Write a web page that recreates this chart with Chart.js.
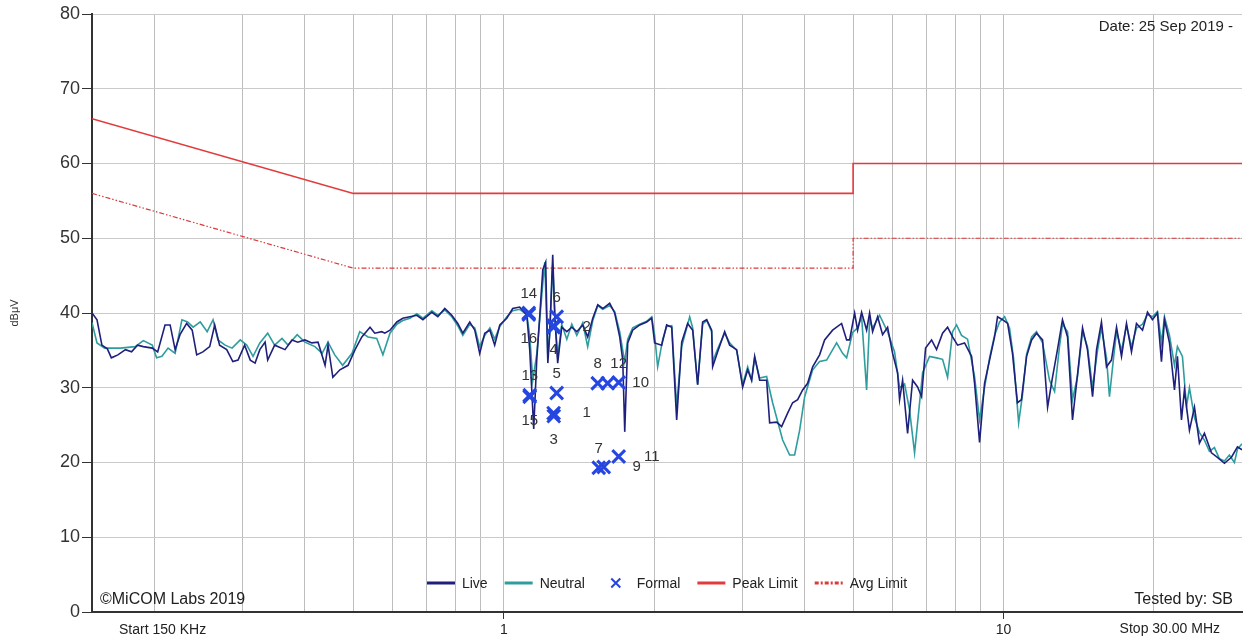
<!DOCTYPE html>
<html>
<head>
<meta charset="utf-8">
<script src="https://cdn.jsdelivr.net/npm/chart.js@4.4.1/dist/chart.umd.min.js"></script>
<style>
  html, body { margin: 0; padding: 0; background: #fff; overflow: hidden; }
  #wrap { width: 1243px; height: 638px; position: relative; }
  #emc { display: block; }
</style>
</head>
<body>
<div id="wrap"><canvas id="emc"></canvas></div>
<script>
// ─── Datos (frecuencia MHz, nivel dBµV) ───────────────────────────────────────

const live = [
  [0.150,40.0],[0.1535,39.1],[0.157,35.7],[0.161,35.2],[0.164,34.0],[0.169,34.4],[0.175,35.1],[0.180,34.8],
  [0.185,35.7],[0.190,35.5],[0.198,35.3],[0.203,34.8],[0.210,38.4],[0.215,38.4],[0.220,35.1],[0.225,37.1],
  [0.232,38.6],[0.238,37.7],[0.243,34.4],[0.250,34.8],[0.258,35.5],[0.264,38.4],[0.270,35.7],[0.279,35.1],
  [0.287,33.5],[0.294,33.7],[0.303,35.7],[0.311,33.7],[0.318,33.3],[0.325,35.1],[0.333,36.1],[0.337,33.7],
  [0.348,35.7],[0.365,35.1],[0.377,36.4],[0.387,36.1],[0.400,36.4],[0.413,36.0],[0.425,36.1],[0.439,33.0],
  [0.445,35.7],[0.455,31.4],[0.470,32.4],[0.488,33.0],[0.504,35.1],[0.520,36.8],[0.540,38.1],[0.552,37.3],
  [0.570,37.5],[0.578,37.3],[0.592,37.7],[0.611,38.8],[0.628,39.3],[0.649,39.5],[0.670,39.7],[0.689,39.1],
  [0.718,40.1],[0.738,39.5],[0.762,40.6],[0.787,39.7],[0.809,38.6],[0.828,37.3],[0.855,38.8],[0.875,37.7],
  [0.895,34.6],[0.916,37.3],[0.938,37.7],[0.959,35.7],[0.982,38.4],[1.014,39.3],[1.042,40.6],[1.076,40.8],
  [1.112,39.7],[1.127,35.1],[1.148,24.5],[1.164,33.7],[1.180,39.5],[1.197,45.8],[1.213,46.8],[1.225,33.3],
  [1.236,37.3],[1.253,47.8],[1.265,39.5],[1.282,33.3],[1.306,38.1],[1.337,37.5],[1.368,38.1],[1.400,37.5],
  [1.439,38.4],[1.472,36.8],[1.507,39.3],[1.542,41.1],[1.578,40.6],[1.629,41.3],[1.667,40.0],[1.706,36.8],
  [1.730,33.7],[1.746,24.1],[1.770,36.0],[1.811,37.7],[1.871,38.4],[1.932,38.8],[1.977,39.3],[2.004,36.0],
  [2.070,35.7],[2.118,38.4],[2.168,38.1],[2.218,25.7],[2.270,36.1],[2.333,38.6],[2.388,37.7],[2.443,30.4],
  [2.500,38.8],[2.547,39.1],[2.606,37.7],[2.618,32.8],[2.679,34.8],[2.767,37.5],[2.831,35.7],[2.924,35.1],
  [3.006,30.1],[3.076,32.4],[3.133,31.0],[3.177,34.2],[3.251,31.0],[3.357,31.0],[3.404,25.3],[3.516,25.4],
  [3.597,24.8],[3.698,26.6],[3.784,28.0],[3.873,28.4],[3.963,29.7],[4.055,30.6],[4.150,32.8],[4.285,34.4],
  [4.385,36.4],[4.550,37.7],[4.742,38.6],[4.853,36.4],[4.920,36.4],[5.035,40.0],[5.105,37.7],[5.200,40.1],
  [5.321,37.7],[5.395,40.0],[5.470,37.5],[5.598,39.5],[5.728,37.1],[5.861,38.1],[5.998,34.6],[6.138,32.0],
  [6.194,28.4],[6.281,31.0],[6.427,23.9],[6.577,31.0],[6.730,30.1],[6.855,28.8],[6.982,35.3],[7.178,36.4],
  [7.345,35.1],[7.551,37.3],[7.727,38.1],[7.907,36.8],[8.091,35.7],[8.356,36.0],[8.630,34.2],[8.750,30.6],
  [8.954,22.7],[9.162,30.6],[9.376,33.7],[9.594,36.8],[9.727,39.5],[9.954,39.1],[10.19,38.6],[10.42,34.6],
  [10.66,28.0],[10.86,28.4],[11.12,34.2],[11.38,36.4],[11.64,37.3],[11.97,36.4],[12.25,27.4],[12.53,31.4],
  [12.82,35.1],[13.12,39.1],[13.43,36.8],[13.74,25.7],[14.00,30.6],[14.39,38.0],[14.72,35.1],[15.07,28.8],
  [15.35,35.1],[15.70,38.8],[16.07,32.8],[16.44,33.7],[16.83,38.1],[17.22,34.2],[17.62,38.6],[18.03,34.8],
  [18.45,38.6],[18.97,37.7],[19.41,40.1],[19.86,39.1],[20.32,40.0],[20.70,33.5],[20.99,39.1],[21.48,36.0],
  [21.98,29.7],[22.28,34.2],[22.70,25.7],[23.01,29.7],[23.55,24.3],[24.10,27.4],[24.66,22.6],[25.23,23.9],
  [26.06,21.3],[26.79,20.7],[27.67,19.9],[28.58,20.7],[29.38,22.1],[30.0,21.7]
];

const neutral = [
  [0.150,38.7],[0.1535,36.0],[0.159,35.3],[0.171,35.3],[0.183,35.5],[0.190,36.3],[0.198,35.7],[0.202,34.0],
  [0.207,34.2],[0.213,35.3],[0.220,34.6],[0.227,39.1],[0.233,38.8],[0.239,38.1],[0.247,38.8],[0.255,37.5],
  [0.262,39.1],[0.268,36.4],[0.277,35.7],[0.286,35.3],[0.297,36.4],[0.306,35.7],[0.315,34.2],[0.325,36.0],
  [0.337,37.3],[0.348,35.7],[0.360,36.6],[0.370,35.7],[0.386,37.1],[0.400,36.1],[0.419,35.5],[0.433,34.6],
  [0.445,36.1],[0.459,34.4],[0.476,33.0],[0.497,34.6],[0.515,37.5],[0.535,36.8],[0.557,36.6],[0.573,34.4],
  [0.592,37.3],[0.611,38.5],[0.628,39.0],[0.649,39.3],[0.670,39.9],[0.689,39.3],[0.718,40.3],[0.738,39.7],
  [0.762,40.4],[0.787,39.5],[0.809,38.3],[0.828,37.0],[0.855,38.5],[0.875,38.0],[0.895,35.5],[0.916,37.0],
  [0.938,38.0],[0.959,36.5],[0.982,38.2],[1.014,39.5],[1.042,40.3],[1.076,40.5],[1.112,39.8],[1.127,37.0],
  [1.143,31.0],[1.164,34.5],[1.180,39.0],[1.197,44.0],[1.208,46.8],[1.225,34.0],[1.236,37.5],[1.253,46.5],
  [1.265,40.0],[1.282,34.0],[1.306,38.5],[1.337,36.5],[1.368,38.5],[1.400,37.0],[1.439,38.7],[1.472,35.5],
  [1.507,39.0],[1.542,41.0],[1.578,40.5],[1.629,41.0],[1.667,40.2],[1.706,37.5],[1.730,35.0],[1.746,33.5],
  [1.770,36.5],[1.811,38.0],[1.871,38.5],[1.932,38.9],[1.977,39.5],[2.004,37.0],[2.032,32.8],[2.080,36.5],
  [2.118,38.2],[2.168,38.3],[2.218,27.5],[2.270,35.5],[2.355,39.5],[2.388,38.0],[2.443,30.4],[2.500,38.5],
  [2.547,39.0],[2.606,37.5],[2.618,33.5],[2.679,35.2],[2.767,37.3],[2.831,36.0],[2.924,35.0],[3.006,30.4],
  [3.076,32.8],[3.133,31.0],[3.177,34.0],[3.251,31.3],[3.357,31.5],[3.451,28.0],[3.614,23.0],[3.733,21.0],
  [3.819,21.0],[3.908,24.3],[4.000,28.8],[4.150,32.4],[4.285,33.5],[4.426,33.7],[4.634,36.0],[4.764,34.6],
  [4.853,34.0],[4.989,37.4],[5.105,38.0],[5.200,39.5],[5.321,29.7],[5.395,39.0],[5.470,38.0],[5.649,39.7],
  [5.861,37.5],[6.053,34.8],[6.194,30.0],[6.339,30.5],[6.486,27.0],[6.637,21.3],[6.792,28.0],[6.887,32.0],
  [7.112,34.2],[7.345,34.0],[7.551,33.8],[7.727,31.4],[7.907,37.5],[8.054,38.4],[8.241,37.0],[8.472,36.5],
  [8.750,31.5],[8.954,25.7],[9.162,30.0],[9.376,34.0],[9.594,37.0],[9.817,38.8],[10.05,39.5],[10.28,38.0],
  [10.47,34.0],[10.72,25.3],[10.91,29.0],[11.12,34.5],[11.38,36.8],[11.64,37.5],[11.97,36.0],[12.36,31.0],
  [12.65,29.5],[12.94,35.5],[13.12,38.5],[13.43,37.5],[13.74,28.4],[14.06,31.5],[14.39,37.5],[14.72,35.5],
  [15.07,30.0],[15.42,35.0],[15.70,38.0],[16.07,34.0],[16.29,28.8],[16.60,34.0],[16.83,37.5],[17.22,35.0],
  [17.62,38.3],[18.03,35.5],[18.45,38.0],[18.97,38.5],[19.41,39.8],[19.86,39.5],[20.32,40.2],[20.70,36.0],
  [20.99,39.5],[21.48,37.0],[21.98,33.0],[22.28,35.5],[22.80,34.2],[23.23,27.5],[23.55,30.0],[24.10,26.0],
  [24.66,24.0],[25.23,23.0],[25.82,21.5],[26.42,22.0],[27.04,20.5],[27.67,20.2],[28.31,21.0],[28.97,20.0],
  [29.38,21.8],[30.0,22.5]
];

const peakLimit = [[0.15,66],[0.5,56],[5,56],[5,60],[30,60]];
const avgLimit  = [[0.15,56],[0.5,46],[5,46],[5,50],[30,50]];

// mediciones formales: número, frecuencia, nivel
const formalIds   = [1,2,3,4,5,6,7,8,9,10,11,12,13,14,15,16];
const formalFreq  = [1.258,1.258,1.259,1.259,1.276,1.276,1.549,1.542,1.585,1.614,1.698,1.698,1.127,1.122,1.127,1.122];
const formalLevel = [26.6,38.1,26.2,38.3,29.3,39.5,19.3,30.6,19.4,30.6,20.8,30.7,29.0,40.0,28.8,39.8];

const xGridMHz = [0.2,0.3,0.4,0.5,0.6,0.7,0.8,0.9,1,2,3,4,5,6,7,8,9,10,20];
const xLabelled = [1, 10];

const seriesNames = ['Live', 'Neutral', 'Formal', 'Peak Limit', 'Avg Limit'];

// dónde va el número de cada marca: a = encima, r = derecha, b = debajo
const labelSide = ['r','r','b','b','a','a','a','a','r','r','r','a','a','a','b','b'];

// ─── Plugins ─────────────────────────────────────────────────────────────────

const FONT = '"Liberation Sans", Arial, sans-serif';

// el área del gráfico llega hasta el borde derecho, como en el original
const fullWidth = {
  id: 'fullWidth',
  afterLayout(chart) {
    const ca = chart.chartArea;
    const target = chart.width - 1;
    if (ca.right < target) {
      ca.right = target;
      ca.width = ca.right - ca.left;
      const x = chart.scales.x;
      x.right = target;
      x.width = x.right - x.left;
      x.configure();
    }
  }
};

const markerLabels = {
  id: 'markerLabels',
  afterDatasetsDraw(chart) {
    const meta = chart.getDatasetMeta(2);
    const ctx = chart.ctx;
    ctx.save();
    ctx.font = '15px ' + FONT;
    ctx.fillStyle = '#333';
    ctx.textAlign = 'center';
    ctx.textBaseline = 'middle';
    meta.data.forEach((pt, i) => {
      let dx = 0, dy = 0;
      if (labelSide[i] === 'a') dy = -19;
      else if (labelSide[i] === 'b') dy = 24;
      else dx = 33;
      ctx.fillText(String(formalIds[i]), pt.x + dx, pt.y + dy);
    });
    ctx.restore();
  }
};

const insideLegend = {
  id: 'insideLegend',
  afterDraw(chart) {
    const ctx = chart.ctx;
    const ca = chart.chartArea;
    const ds = chart.data.datasets;
    ctx.save();
    ctx.font = '14px ' + FONT;
    const sample = 28, gapIn = 7, gapOut = 17;
    const widths = seriesNames.map(n => sample + gapIn + ctx.measureText(n).width);
    const total = widths.reduce((a, b) => a + b, 0) + gapOut * (widths.length - 1);
    let x = (ca.left + ca.right) / 2 - total / 2;
    const y = ca.bottom - 29;
    seriesNames.forEach((name, i) => {
      const d = ds[i];
      if (d.showLine === false) {
        ctx.strokeStyle = d.pointBorderColor;
        ctx.lineWidth = 2;
        const c = x + sample / 2, r = 4.5;
        ctx.beginPath();
        ctx.moveTo(c - r, y - r); ctx.lineTo(c + r, y + r);
        ctx.moveTo(c + r, y - r); ctx.lineTo(c - r, y + r);
        ctx.stroke();
      } else {
        ctx.strokeStyle = d.borderColor;
        ctx.lineWidth = 3;
        ctx.setLineDash(d.borderDash ? [4, 2, 2, 2] : []);
        ctx.beginPath();
        ctx.moveTo(x, y); ctx.lineTo(x + sample, y);
        ctx.stroke();
        ctx.setLineDash([]);
      }
      ctx.fillStyle = '#222';
      ctx.textAlign = 'left';
      ctx.textBaseline = 'middle';
      ctx.fillText(name, x + sample + gapIn, y + 1);
      x += widths[i] + gapOut;
    });
    ctx.restore();
  }
};

const notes = {
  id: 'notes',
  afterDraw(chart) {
    const ctx = chart.ctx;
    const ca = chart.chartArea;
    ctx.save();
    ctx.fillStyle = '#222';
    ctx.textBaseline = 'middle';
    ctx.font = '15px ' + FONT;
    ctx.textAlign = 'right';
    ctx.fillText('Date: 25 Sep 2019 -', ca.right - 9, ca.top + 13);
    ctx.font = '16px ' + FONT;
    ctx.fillText('Tested by: SB', ca.right - 9, ca.bottom - 12);
    ctx.textAlign = 'left';
    ctx.fillText('©MiCOM Labs 2019', ca.left + 8, ca.bottom - 12);
    ctx.font = '14px ' + FONT;
    ctx.fillText('Start 150 KHz', ca.left + 27, ca.bottom + 18);
    ctx.textAlign = 'right';
    ctx.fillText('Stop 30.00 MHz', ca.right - 22, ca.bottom + 17);
    ctx.restore();
  }
};

// ─── Gráfica ─────────────────────────────────────────────────────────────────

const toXY = arr => arr.map(([x, y]) => ({ x, y }));

Chart.defaults.font.family = FONT;

new Chart(document.getElementById('emc'), {
  type: 'line',
  data: {
    datasets: [
      {
        label: 'Live',
        data: toXY(live),
        borderColor: '#1f1f7c',
        borderWidth: 1.6,
        pointRadius: 0,
        tension: 0,
        order: 1
      },
      {
        label: 'Neutral',
        data: toXY(neutral),
        borderColor: '#2f9d9d',
        borderWidth: 1.6,
        pointRadius: 0,
        tension: 0,
        order: 2
      },
      {
        label: 'Formal',
        data: formalFreq.map((f, i) => ({ x: f, y: formalLevel[i] })),
        showLine: false,
        pointStyle: 'crossRot',
        pointRadius: 9,
        pointBorderWidth: 3,
        pointBorderColor: '#2546e0',
        pointBackgroundColor: '#2546e0',
        order: 0
      },
      {
        label: 'Peak Limit',
        data: toXY(peakLimit),
        borderColor: '#e23b3b',
        borderWidth: 1.6,
        pointRadius: 0,
        tension: 0,
        order: 3
      },
      {
        label: 'Avg Limit',
        data: toXY(avgLimit),
        borderColor: '#dc3a3a',
        borderWidth: 1.2,
        borderDash: [5, 2, 1.5, 2, 1.5, 2],
        pointRadius: 0,
        tension: 0,
        order: 4
      }
    ]
  },
  options: {
    responsive: true,
    maintainAspectRatio: false,
    animation: false,
    layout: { padding: { top: 14, right: 1, left: 0, bottom: 0 } },
    plugins: {
      legend: { display: false },
      tooltip: { enabled: false }
    },
    scales: {
      x: {
        type: 'logarithmic',
        min: 0.15,
        max: 30,
        afterBuildTicks: s => { s.ticks = xGridMHz.map(v => ({ value: v })); },
        afterFit: s => { s.height = 26; s.paddingLeft = 0; s.paddingRight = 0; },
        border: { display: true, color: '#333', width: 2 },
        grid: {
          color: '#bdbdbd',
          lineWidth: 1,
          tickLength: 7,
          tickColor: c => (c.tick && xLabelled.includes(c.tick.value)) ? '#333' : 'rgba(0,0,0,0)'
        },
        ticks: {
          autoSkip: false,
          maxRotation: 0,
          padding: 3,
          color: '#222',
          font: { size: 14 },
          callback: v => xLabelled.includes(v) ? String(v) : ''
        }
      },
      y: {
        min: 0,
        max: 80,
        afterFit: s => { s.width = 92; },
        border: { display: true, color: '#333', width: 2 },
        grid: {
          color: '#cacaca',
          lineWidth: 1,
          tickLength: 10,
          tickColor: '#333'
        },
        ticks: {
          stepSize: 10,
          padding: 2,
          color: '#333',
          font: { size: 18 }
        },
        title: {
          display: true,
          text: 'dBμV',
          color: '#333',
          font: { size: 11 },
          padding: { top: 8, bottom: 0 }
        }
      }
    }
  },
  plugins: [fullWidth, markerLabels, insideLegend, notes]
});
</script>
</body>
</html>
